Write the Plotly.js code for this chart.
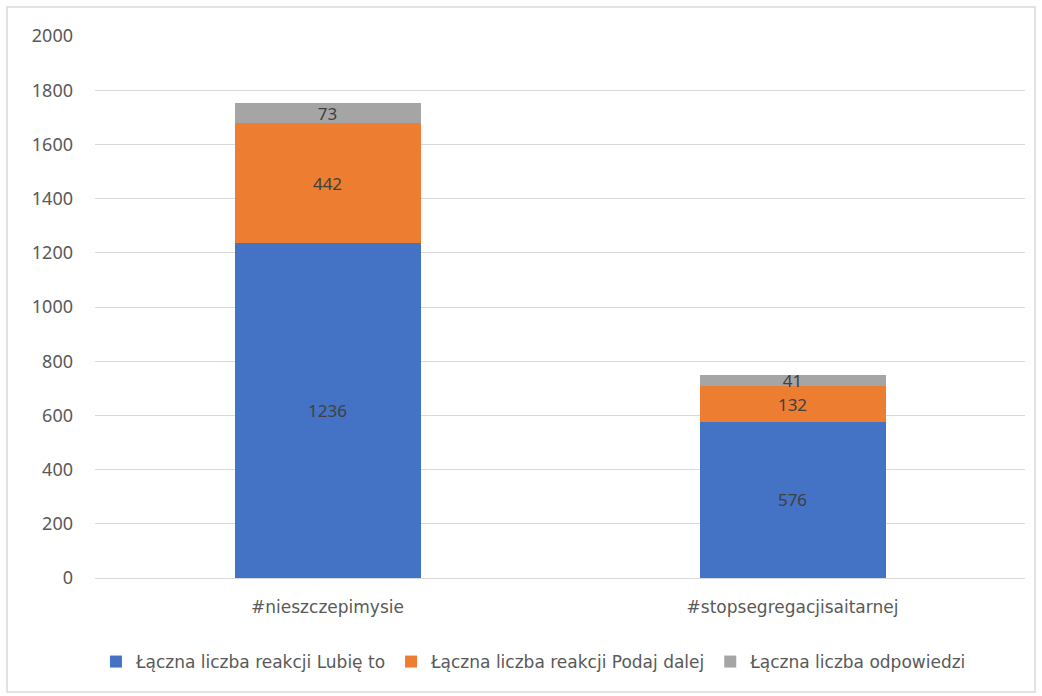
<!DOCTYPE html>
<html>
<head>
<meta charset="utf-8">
<script src="https://cdn.plot.ly/plotly-3.0.1.min.js"></script>
<style>
html,body{margin:0;padding:0;background:#fff;}
#chart{width:1042px;height:696px;}
</style>
</head>
<body>
<div id="chart"></div>
<script>
const categories = ['#nieszczepimysie', '#stopsegregacjisaitarnej'];
const likes = [1236, 576];
const shares = [442, 132];
const replies = [73, 41];
const seriesNames = ['Łączna liczba reakcji Lubię to', 'Łączna liczba reakcji Podaj dalej', 'Łączna liczba odpowiedzi'];
const colors = ['#4472C4', '#ED7D31', '#A5A5A5'];
const yTicks = [0, 200, 400, 600, 800, 1000, 1200, 1400, 1600, 1800, 2000];

const font = 'Noto Sans, Open Sans, sans-serif';
const wideFont = 'DejaVu Sans, Noto Sans, sans-serif';
const seriesVals = [likes, shares, replies];
const traces = seriesVals.map((vals, i) => ({
  type: 'bar',
  x: categories,
  y: vals,
  name: seriesNames[i],
  marker: {color: colors[i]},
  text: vals.map(String),
  textposition: 'inside',
  insidetextanchor: 'middle',
  textangle: 0,
  constraintext: 'none',
  textfont: {family: font, size: 17, color: '#404040'},
  hoverinfo: 'none'
}));

const layout = {
  width: 1042, height: 696,
  margin: {l: 95, r: 17, t: 36, b: 118},
  barmode: 'stack',
  bargap: 0.6,
  paper_bgcolor: '#ffffff',
  plot_bgcolor: '#ffffff',
  showlegend: true,
  legend: {
    orientation: 'h', x: 0.472, xanchor: 'center', y: -0.155, yanchor: 'middle',
    font: {family: wideFont, size: 17, color: '#595959'},
    itemwidth: 30, traceorder: 'normal'
  },
  xaxis: {
    showgrid: false, showline: true, linecolor: '#d9d9d9', linewidth: 1,
    ticks: '', ticklabelstandoff: 14,
    tickfont: {family: wideFont, size: 17, color: '#595959'},
    fixedrange: true
  },
  yaxis: {
    range: [0, 2000], tickvals: yTicks, ticktext: yTicks.map(String),
    showgrid: true, gridcolor: '#d9d9d9', gridwidth: 1, zeroline: false,
    showline: false, ticks: '', ticklabelstandoff: 21,
    tickfont: {family: font, size: 18, color: '#595959'},
    fixedrange: true
  },
  shapes: [{
    type: 'rect', xref: 'paper', yref: 'paper',
    x0: -0.0946, x1: 1.0108, y0: -0.2103, y1: 1.0535,
    line: {color: '#d9d9d9', width: 1.5}, fillcolor: 'rgba(0,0,0,0)', layer: 'below'
  }]
};

Plotly.newPlot('chart', traces, layout, {staticPlot: true, displayModeBar: false});
</script>
</body>
</html>
